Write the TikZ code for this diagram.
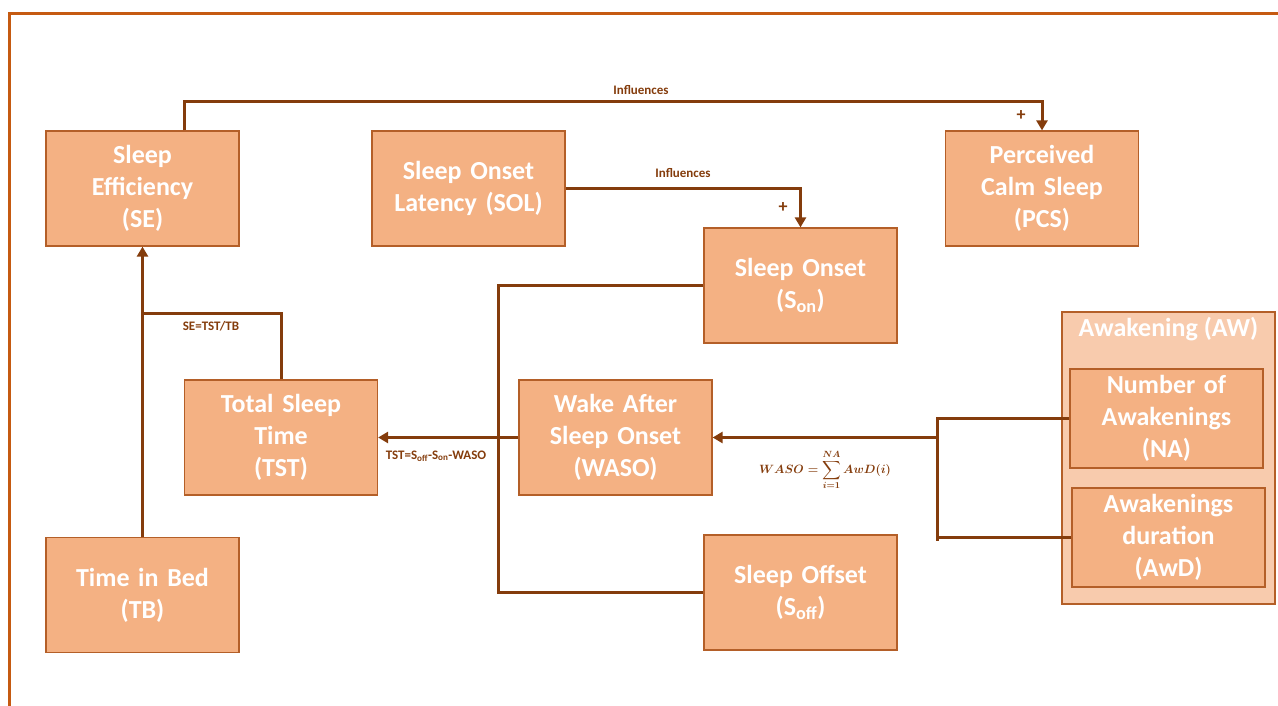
\documentclass[tikz,border=0pt]{standalone}
\usepackage{amsmath, amssymb}
\usepackage{fontspec}
\setmainfont{Carlito}
\usepackage{xcolor}
\usepackage{tikz}
\usetikzlibrary{arrows.meta,positioning,calc}
\definecolor{boxfill}    {RGB}{244,177,131}
\definecolor{boxedge}    {RGB}{180,95,40}
\definecolor{groupfill}  {RGB}{248,203,173}
\definecolor{linkbrown}  {RGB}{132,60,12}
\definecolor{frameorange}{RGB}{197,90,17}
\newsavebox{\wasobox}
\tikzset{
  mainbox/.style ={draw=boxedge, fill=boxfill, line width=1.2pt, align=center,
                   minimum width=193pt, minimum height=115pt, text width=185pt,
                   inner sep=0pt, text=white,
                   font=\fontsize{26}{32}\selectfont\bfseries},
  subbox/.style  ={mainbox, minimum height=99pt},
  groupbox/.style={draw=boxedge, fill=groupfill, line width=1.2pt,
                   minimum width=213pt, minimum height=292pt, inner sep=0pt},
  titlenode/.style={text=white, inner sep=0pt,
                   font=\fontsize{26}{32}\selectfont\bfseries},
  link/.style    ={draw=linkbrown, line width=3pt},
  arr/.style     ={link, -{Triangle[length=10pt,width=11pt]}},
  lbl/.style     ={text=linkbrown, inner sep=1pt,
                   font=\fontsize{13}{15}\selectfont\bfseries},
  sign/.style    ={lbl, font=\fontsize{18}{18}\selectfont\bfseries},
  frameline/.style={draw=frameorange, line width=3pt},
}

\begin{document}
\sbox{\wasobox}{\color{linkbrown}\fontsize{13}{15}\selectfont\boldmath
  $\displaystyle WASO=\sum_{i=1}^{NA}AwD(i)$}
\begin{tikzpicture}[x=1pt,y=-1pt]
  \useasboundingbox (0,0) rectangle (1278,706);
  \draw[frameline] (9,706) -- (9,14) -- (1278,14);

  \node[mainbox] (se)   at (142.5,188.5) {Sleep\\Efficiency\\(SE)};
  \node[mainbox] (sol)  at (468.5,188.5) {Sleep Onset\\Latency (SOL)};
  \node[mainbox] (pcs)  at (1042,188.5)  {Perceived\\Calm Sleep\\(PCS)};
  \node[mainbox] (son)  at (800.5,285.5) {Sleep Onset\\(S\textsubscript{on})};
  \node[mainbox] (tst)  at (281,437.5)   {Total Sleep\\Time\\(TST)};
  \node[mainbox] (waso) at (615.5,437.5) {Wake After\\Sleep Onset\\(WASO)};
  \node[mainbox] (tb)   at (142.5,595)   {Time in Bed\\(TB)};
  \node[mainbox] (soff) at (800.5,592.5) {Sleep Offset\\(S\textsubscript{off})};

  \node[groupbox] (aw) at (1168.5,458) {};
  \node[titlenode, below=6pt of aw.north] (awtitle) {Awakening (AW)};
  \node[subbox] (na)  at (1166.5,418.5) {Number of\\Awakenings\\(NA)};
  \node[subbox] (awd) at (1168.5,537.5) {Awakenings\\duration\\(AwD)};

  \draw[arr] ([xshift=41.5pt]se.north) -- ++(0,-29) -| (pcs.north);
  \node[lbl]  at (641,90)  {Influences};
  \node[sign] at (1021,116) {+};
  \draw[arr] (sol.east) -| (son.north);
  \node[lbl]  at (683,173) {Influences};
  \node[sign] at (783,208) {+};

  \draw[arr] (tb.north) -- (se.south);
  \draw[link] (tst.north) |- ($(se.south)!0.23!(tb.north)$);
  \node[lbl] at (211,326) {SE=TST/TB};

  \draw[link] (son.west) -- ++(-205,0) |- (soff.west);
  \draw[arr] (waso.west) -- (tst.east);
  \node[lbl] at (436,456) {TST=S\textsubscript{off}-S\textsubscript{on}-WASO};

  \draw[link] (na.west) -- ++(-132,0) coordinate (j1);
  \draw[link] (awd.west) -- (awd.west -| j1) coordinate (j2);
  \draw[link] ([yshift=1.5pt]j1) -- ([yshift=-3pt]j2);
  \draw[arr] (waso.east -| j1) -- (waso.east);
  \node[lbl] (wasoeq) at (825,470) {\usebox{\wasobox}};
\end{tikzpicture}
\end{document}
